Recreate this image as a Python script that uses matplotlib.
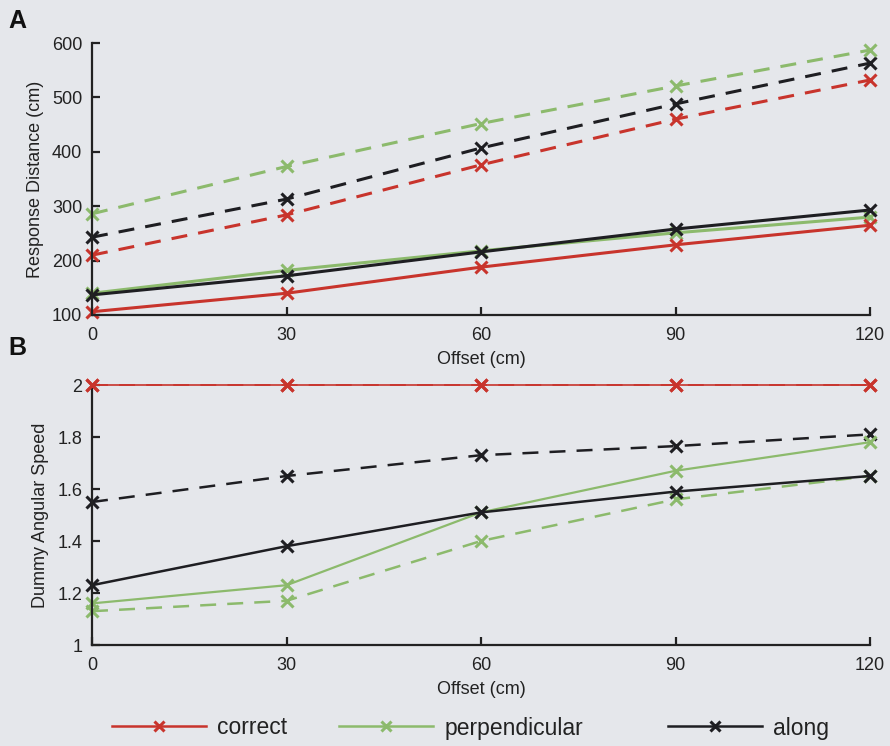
import matplotlib
matplotlib.use("Agg")
import matplotlib.pyplot as plt
from matplotlib.lines import Line2D

plt.rcParams['font.family'] = ['Liberation Sans', 'DejaVu Sans']
plt.rcParams['lines.scale_dashes'] = False

# Offsets (cm)
offsets = [0, 30, 60, 90, 120]

# Panel A: response distance (cm)
dist_correct_solid = [106, 140, 188, 229, 265]
dist_perp_solid = [140, 182, 218, 251, 280]
dist_along_solid = [137, 172, 216, 258, 293]
dist_correct_dashed = [210, 284, 376, 460, 532]
dist_perp_dashed = [286, 373, 452, 521, 587]
dist_along_dashed = [243, 313, 407, 488, 563]

# Panel B: dummy angular speed
speed_correct_solid = [2.0, 2.0, 2.0, 2.0, 2.0]
speed_perp_solid = [1.16, 1.23, 1.51, 1.67, 1.78]
speed_along_solid = [1.23, 1.38, 1.51, 1.59, 1.65]
speed_correct_dashed = [2.0, 2.0, 2.0, 2.0, 2.0]
speed_perp_dashed = [1.13, 1.17, 1.40, 1.56, 1.65]
speed_along_dashed = [1.55, 1.65, 1.73, 1.765, 1.81]

legend_labels = ['correct', 'perpendicular', 'along']

RED = '#c8342c'
GREEN = '#8cba6c'
BLACK = '#1e1e22'
BG = '#e5e7eb'
DASH = (11.5, 8)

fig = plt.figure(figsize=(8.9, 7.46), dpi=100, facecolor=BG)

axA = fig.add_axes([92 / 890, 1 - 315 / 746, 778 / 890, 272 / 746])
axB = fig.add_axes([92 / 890, 1 - 645 / 746, 778 / 890, 260 / 746])


def style_axis(ax):
    ax.set_facecolor('none')
    for side in ('top', 'right'):
        ax.spines[side].set_visible(False)
    for side in ('left', 'bottom'):
        ax.spines[side].set_linewidth(1.6)
        ax.spines[side].set_color('#222222')
    ax.tick_params(direction='in', length=6, width=1.6, labelsize=13,
                   colors='#222222', pad=7)
    ax.tick_params(axis='x', pad=9)
    ax.set_xlim(0, 120)
    ax.set_xticks(offsets)
    ax.set_xlabel('Offset (cm)', fontsize=13, labelpad=5, color='#222222')


def draw(ax, x, y, color, lw, dashed=False, z=2):
    kw = dict(color=color, lw=lw, marker='x', ms=9, mew=2.2, clip_on=False,
              zorder=z)
    if dashed:
        ax.plot(x, y, dashes=DASH, **kw)
    else:
        ax.plot(x, y, **kw)


# Panel A
style_axis(axA)
axA.set_ylim(100, 600)
axA.set_yticks([100, 200, 300, 400, 500, 600])
axA.set_ylabel('Response Distance (cm)', fontsize=13, labelpad=6, color='#222222')
draw(axA, offsets, dist_correct_dashed, RED, 2.2, dashed=True)
draw(axA, offsets, dist_along_dashed, BLACK, 2.2, dashed=True)
draw(axA, offsets, dist_perp_dashed, GREEN, 2.2, dashed=True)
draw(axA, offsets, dist_perp_solid, GREEN, 2.2)
draw(axA, offsets, dist_along_solid, BLACK, 2.2)
draw(axA, offsets, dist_correct_solid, RED, 2.2)

# Panel B
style_axis(axB)
axB.set_ylim(1, 2)
axB.set_yticks([1, 1.2, 1.4, 1.6, 1.8, 2])
axB.set_yticklabels(['1', '1.2', '1.4', '1.6', '1.8', '2'])
axB.set_ylabel('Dummy Angular Speed', fontsize=13, labelpad=6, color='#222222')
draw(axB, offsets, speed_correct_dashed, RED, 1.2, dashed=True)
draw(axB, offsets, speed_perp_dashed, GREEN, 1.8, dashed=True)
draw(axB, offsets, speed_along_dashed, BLACK, 1.8, dashed=True)
draw(axB, offsets, speed_perp_solid, GREEN, 1.6)
draw(axB, offsets, speed_along_solid, BLACK, 1.8)
draw(axB, offsets, speed_correct_solid, RED, 1.2, z=3)

# Panel letters
fig.text(8 / 890, 1 - 28 / 746, 'A', fontsize=18, fontweight='bold', color='#111111')
fig.text(8 / 890, 1 - 355 / 746, 'B', fontsize=18, fontweight='bold', color='#111111')

# Legend entries, placed individually along the bottom
legend_x = [112, 339, 668]
for lab, col, xpix in zip(legend_labels, [RED, GREEN, BLACK], legend_x):
    h = Line2D([], [], color=col, lw=1.8, marker='x', ms=7, mew=2.2)
    fig.legend([h], [lab], loc='center left',
               bbox_to_anchor=(xpix / 890, 1 - 728 / 746),
               frameon=False, fontsize=16.5, handlelength=4.1,
               handletextpad=0.5, borderpad=0, borderaxespad=0,
               labelcolor='#222222')

fig.savefig('out.png', dpi=100, facecolor=BG)
